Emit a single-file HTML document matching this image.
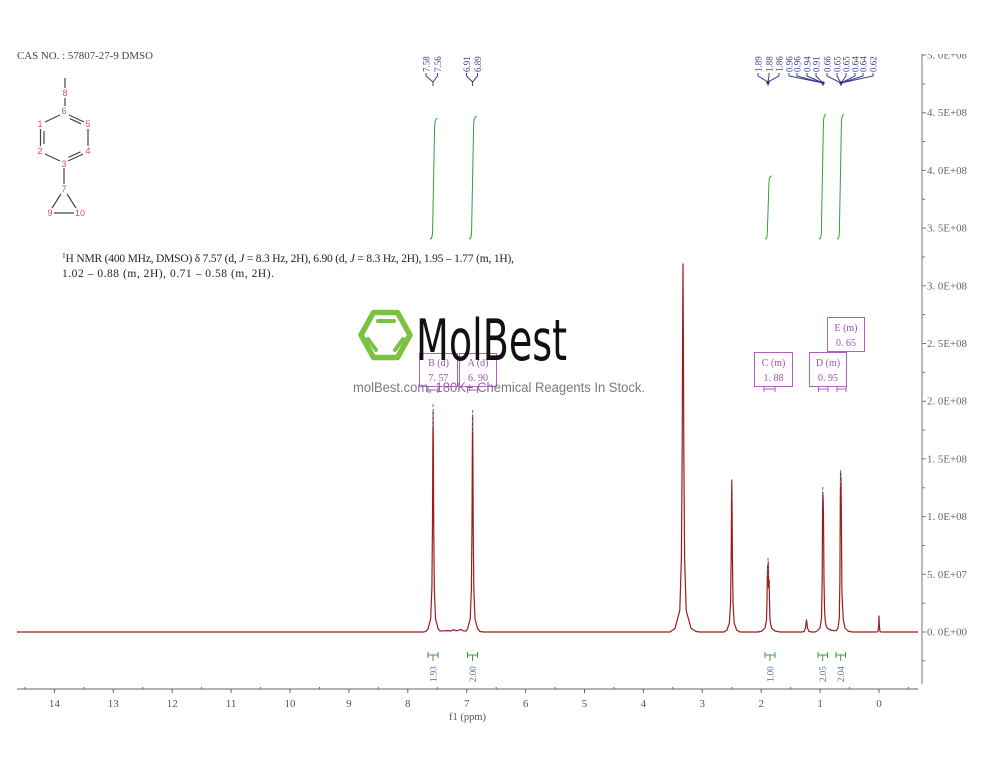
<!DOCTYPE html>
<html><head><meta charset="utf-8"><style>
html,body{margin:0;padding:0;background:#fff;}
svg{display:block;}
</style></head><body>
<svg width="1000" height="773" viewBox="0 0 1000 773" xmlns="http://www.w3.org/2000/svg">
<defs><clipPath id="topclip"><rect x="900" y="54" width="100" height="20"/></clipPath></defs>
<rect width="1000" height="773" fill="#fff"/>

<!-- CAS text -->
<text x="17" y="59" font-family="Liberation Serif, serif" font-size="10" fill="#444" textLength="136" lengthAdjust="spacingAndGlyphs">CAS NO. : 57807-27-9 DMSO</text>

<!-- Structure -->
<g stroke="#454545" stroke-width="1.2" fill="none">
<line x1="65" y1="78" x2="65" y2="88"/>
<line x1="65" y1="98" x2="65" y2="106"/>
<line x1="60" y1="115" x2="45" y2="122"/>
<line x1="69" y1="115" x2="84" y2="122"/>
<line x1="70" y1="118.7" x2="81" y2="123.8"/>
<line x1="40.5" y1="129" x2="40.5" y2="146"/>
<line x1="44" y1="131" x2="44" y2="144"/>
<line x1="88" y1="129" x2="88" y2="146"/>
<line x1="45" y1="154" x2="60" y2="161"/>
<line x1="68" y1="161" x2="83" y2="154"/>
<line x1="68.5" y1="157.3" x2="80.5" y2="151.8"/>
<line x1="64" y1="168" x2="64" y2="184"/>
<line x1="61" y1="194" x2="52" y2="208"/>
<line x1="67" y1="194" x2="76" y2="208"/>
<line x1="54" y1="213" x2="74" y2="213"/>
</g>
<g font-family="Liberation Sans, sans-serif" font-size="9" fill="#e0505a" text-anchor="middle">
<text x="65" y="96">8</text>
<text x="64" y="114">6</text>
<text x="40" y="127">1</text>
<text x="88" y="127">5</text>
<text x="40" y="154">2</text>
<text x="88" y="154">4</text>
<text x="64" y="167">3</text>
<text x="64" y="192">7</text>
<text x="50" y="216">9</text>
<text x="80" y="216">10</text>
</g>

<!-- NMR description -->
<g font-family="Liberation Serif, serif" font-size="11.5" fill="#222">
<text x="62" y="262" textLength="452" lengthAdjust="spacing"><tspan font-size="7.5" dy="-4">1</tspan><tspan dy="4">H NMR (400 MHz, DMSO) δ 7.57 (d, </tspan><tspan font-style="italic">J</tspan><tspan> = 8.3 Hz, 2H), 6.90 (d, </tspan><tspan font-style="italic">J</tspan><tspan> = 8.3 Hz, 2H), 1.95 – 1.77 (m, 1H),</tspan></text>
<text x="62" y="277" textLength="212" lengthAdjust="spacing">1.02 – 0.88 (m, 2H), 0.71 – 0.58 (m, 2H).</text>
</g>

<!-- Top peak labels -->
<g font-family="Liberation Serif, serif" font-size="9" fill="#3a3f8a">
<text transform="translate(429.5,72) rotate(-90)">7.58</text>
<text transform="translate(441,72) rotate(-90)">7.56</text>
<text transform="translate(470,72) rotate(-90)">6.91</text>
<text transform="translate(481,72) rotate(-90)">6.89</text>
<text transform="translate(761.5,72) rotate(-90)">1.89</text>
<text transform="translate(772.5,72) rotate(-90)">1.88</text>
<text transform="translate(782.5,72) rotate(-90)">1.86</text>
<text transform="translate(792.5,72) rotate(-90)">0.96</text>
<text transform="translate(800.5,72) rotate(-90)">0.96</text>
<text transform="translate(810.5,72) rotate(-90)">0.94</text>
<text transform="translate(819.5,72) rotate(-90)">0.91</text>
<text transform="translate(830.5,72) rotate(-90)">0.66</text>
<text transform="translate(840.5,72) rotate(-90)">0.65</text>
<text transform="translate(849.5,72) rotate(-90)">0.65</text>
<text transform="translate(858.5,72) rotate(-90)">0.64</text>
<text transform="translate(866.5,72) rotate(-90)">0.64</text>
<text transform="translate(876.5,72) rotate(-90)">0.62</text>
</g>
<g stroke="#3a3f8a" stroke-width="1" fill="none">
<path d="M426 73 V76 L433 82 M437.5 73 V76 L433 82 M433 82 V86"/>
<path d="M466.5 73 V76 L472.6 82 M477.5 73 V76 L472.6 82 M472.6 82 V86"/>
<path d="M758 73 V76 L768 82 M769 73 V76 L768 82 M779 73 V76 L768 82 M768 82 V86"/>
<path d="M789 73 V76 L823 83 M797 73 V76 L823 83 M807 73 V76 L823 83 M816 73 V76 L823 83 M823 83 V86"/>
<path d="M827 73 V76 L841 83 M837 73 V76 L841 83 M846 73 V76 L841 83 M855 73 V76 L841 83 M863 73 V76 L841 83 M873 73 V76 L841 83 M841 83 V86"/>
</g>
<g fill="#2a2f7a"><circle cx="768" cy="82.5" r="1.6"/><circle cx="823" cy="83" r="1.6"/><circle cx="841" cy="83" r="1.6"/></g>

<!-- Integral curves -->
<g stroke="#3c9a3c" stroke-width="1" fill="none">
<path d="M430 239 C432 239 432.5 236 432.6 230 L434.6 128 C434.8 121 435.5 119 437.5 118"/>
<path d="M469 239 C471 239 471.5 236 471.6 230 L473.6 126 C473.8 119 474.5 117 476.5 116"/>
<path d="M765 239 C767 239 767.3 236 767.4 230 L768.9 184 C769.1 178 769.8 176 771.5 176"/>
<path d="M819 239 C821 239 821.3 236 821.4 230 L823.4 124 C823.6 117 824.3 115 826 114"/>
<path d="M837 239 C839 239 839.3 236 839.4 230 L841.4 124 C841.6 117 842.3 115 844 114"/>
</g>

<!-- Multiplet boxes -->
<g stroke="#b060c0" stroke-width="1" fill="none">
<rect x="419.5" y="353.5" width="38" height="33"/>
<rect x="459.5" y="353.5" width="37" height="33"/>
<rect x="754.5" y="352.5" width="38" height="34"/>
<rect x="809.5" y="352.5" width="37" height="34"/>
<rect x="827.5" y="317.5" width="37" height="34"/>
<path d="M428 390 H438 M428 387 V393 M438 387 V393"/>
<path d="M467.5 390 H477.5 M467.5 387 V393 M477.5 387 V393"/>
<path d="M764 389 H775 M764 386 V392 M775 386 V392"/>
<path d="M818.5 389 H828 M818.5 386 V392 M828 386 V392"/>
<path d="M837 389 H846 M837 386 V392 M846 386 V392"/>
</g>
<g font-family="Liberation Serif, serif" font-size="10" fill="#a050b0" text-anchor="middle">
<text x="438.5" y="366">B (d)</text><text x="438.5" y="381">7. 57</text>
<text x="478" y="366">A (d)</text><text x="478" y="381">6. 90</text>
<text x="773.5" y="366">C (m)</text><text x="773.5" y="381">1. 88</text>
<text x="828" y="366">D (m)</text><text x="828" y="381">0. 95</text>
<text x="846" y="331">E (m)</text><text x="846" y="346">0. 65</text>
</g>

<!-- Right axis -->
<g stroke="#777" stroke-width="1" fill="none">
<line x1="922" y1="54" x2="922" y2="684"/>
<path d="M922 632 H926 M922 574.3 H926 M922 516.6 H926 M922 458.9 H926 M922 401.2 H926 M922 343.5 H926 M922 285.8 H926 M922 228.1 H926 M922 170.4 H926 M922 112.7 H926 M922 55 H926"/>
<path d="M922 660.85 H925 M922 603.15 H925 M922 545.45 H925 M922 487.75 H925 M922 430.05 H925 M922 372.35 H925 M922 314.65 H925 M922 256.95 H925 M922 199.25 H925 M922 141.55 H925 M922 83.85 H925"/>
</g>
<g font-family="Liberation Serif, serif" font-size="10" fill="#666">
<text x="927" y="635.5" textLength="40" lengthAdjust="spacingAndGlyphs">0. 0E+00</text>
<text x="927" y="577.8" textLength="40" lengthAdjust="spacingAndGlyphs">5. 0E+07</text>
<text x="927" y="520.1" textLength="40" lengthAdjust="spacingAndGlyphs">1. 0E+08</text>
<text x="927" y="462.4" textLength="40" lengthAdjust="spacingAndGlyphs">1. 5E+08</text>
<text x="927" y="404.7" textLength="40" lengthAdjust="spacingAndGlyphs">2. 0E+08</text>
<text x="927" y="347" textLength="40" lengthAdjust="spacingAndGlyphs">2. 5E+08</text>
<text x="927" y="289.3" textLength="40" lengthAdjust="spacingAndGlyphs">3. 0E+08</text>
<text x="927" y="231.6" textLength="40" lengthAdjust="spacingAndGlyphs">3. 5E+08</text>
<text x="927" y="173.9" textLength="40" lengthAdjust="spacingAndGlyphs">4. 0E+08</text>
<text x="927" y="116.2" textLength="40" lengthAdjust="spacingAndGlyphs">4. 5E+08</text>
<text x="927" y="58.5" textLength="40" lengthAdjust="spacingAndGlyphs" clip-path="url(#topclip)">5. 0E+08</text>
</g>

<!-- Bottom axis -->
<g stroke="#666" stroke-width="1" fill="none">
<line x1="17" y1="689" x2="918" y2="689"/>
<path d="M879 689 V693 M820.1 689 V693 M761.2 689 V693 M702.3 689 V693 M643.4 689 V693 M584.5 689 V693 M525.6 689 V693 M466.7 689 V693 M407.8 689 V693 M348.9 689 V693 M290 689 V693 M231.1 689 V693 M172.2 689 V693 M113.3 689 V693 M54.4 689 V693"/>
<path d="M908.45 687 V689 M849.55 687 V689 M790.65 687 V689 M731.75 687 V689 M672.85 687 V689 M613.95 687 V689 M555.05 687 V689 M496.15 687 V689 M437.25 687 V689 M378.35 687 V689 M319.45 687 V689 M260.55 687 V689 M201.65 687 V689 M142.75 687 V689 M83.85 687 V689 M24.95 687 V689"/>
</g>
<g font-family="Liberation Serif, serif" font-size="11" fill="#555" text-anchor="middle">
<text x="879" y="707">0</text><text x="820.1" y="707">1</text><text x="761.2" y="707">2</text>
<text x="702.3" y="707">3</text><text x="643.4" y="707">4</text><text x="584.5" y="707">5</text>
<text x="525.6" y="707">6</text><text x="466.7" y="707">7</text><text x="407.8" y="707">8</text>
<text x="348.9" y="707">9</text><text x="290" y="707">10</text><text x="231.1" y="707">11</text>
<text x="172.2" y="707">12</text><text x="113.3" y="707">13</text><text x="54.4" y="707">14</text>
<text x="467.5" y="720" font-size="10.5">f1 (ppm)</text>
</g>

<!-- Integral labels bottom -->
<g stroke="#3c9a3c" stroke-width="1" fill="none">
<path d="M428 655 H438 M428 652 V658 M438 652 V658 M433 655 V661"/>
<path d="M467.5 655 H477.5 M467.5 652 V658 M477.5 652 V658 M472.5 655 V661"/>
<path d="M765 655 H775 M765 652 V658 M775 652 V658 M770 655 V661"/>
<path d="M818 655 H827.5 M818 652 V658 M827.5 652 V658 M822.7 655 V661"/>
<path d="M836 655 H845.5 M836 652 V658 M845.5 652 V658 M840.7 655 V661"/>
</g>
<g font-family="Liberation Serif, serif" font-size="9" fill="#5a6aa0">
<text transform="translate(436.5,682) rotate(-90)">1.93</text>
<text transform="translate(476,682) rotate(-90)">2.00</text>
<text transform="translate(773.5,682) rotate(-90)">1.00</text>
<text transform="translate(826.2,682) rotate(-90)">2.05</text>
<text transform="translate(844.2,682) rotate(-90)">2.04</text>
</g>

<!-- Spectrum -->
<polyline fill="none" stroke="#9c1c1c" stroke-width="1.2" stroke-linejoin="round" points="
17,632 424,632 426,631.2 428.1,628.7 430.7,618.7 431.9,587.6 432.5,521 432.8,454.4 433.1,410 433.4,454.4 433.7,521 434.3,587.6 435.5,618.7 438.1,628.7
440,631 443,630.8 448,630.6 451,631 453.5,629.6 456,630.8 459,630.2 461,629.4 463,630.8 466,631
467.6,628.7 470.2,619 471.4,588.6 472,523.5 472.3,458.4 472.6,415 472.9,458.4 473.2,523.5 473.8,588.6 475,619 477.6,628.7 480,631.5 484,632
670,632 675,628.4 679.8,610.4 681.4,558.4 682.2,448 682.6,338 683,264 683.4,338 683.8,448 684.6,558.4 686.2,610.4 691,628.4 696,631.5 700,632
724,632 727,630 729.4,623.1 730.6,601.6 731.2,556 731.5,510.4 731.8,480 732.1,510.4 732.4,556 733,601.6 734.2,623.1 736.6,630 740,632
758,632 762,631 765,628 766.5,620 767,600 767.4,575 767.7,565 768,585 768.3,562 768.7,588 769.1,580 769.5,600 770,620 771.5,628 775,631 780,632
802,632 804,631.5 805.5,628 806.2,622 806.5,620 806.8,622 807.5,628 809,631.5 812,632
815,632 817,631 820,628 821.5,618 822.2,580 822.5,520 822.8,492 823.2,498 823.6,530 824,580 824.6,612 825.4,622 826.5,627 829,629.5 833,630.5 836,630.8
838,628 839.3,618 839.9,580 840.3,500 840.6,473 841,480 841.4,520 841.9,590 842.5,605 843.3,620 845,628 848,631 852,632
877,632 878,631.5 878.7,625 879,616 879.3,625 880,631.5 881,632 918,632"/>
<!-- Peak pick markers -->
<g stroke="#6070b0" stroke-width="1" stroke-dasharray="3,2" fill="none">
<line x1="433" y1="404" x2="433" y2="428"/>
<line x1="472.6" y1="410" x2="472.6" y2="432"/>
<line x1="768" y1="558" x2="768" y2="578"/>
<line x1="822.8" y1="487" x2="822.8" y2="502"/>
<line x1="840.6" y1="470" x2="840.6" y2="486"/>
</g>

<!-- Watermark -->
<g fill="none" stroke="#7cc242" stroke-linejoin="round" stroke-linecap="round">
<path d="M361 335 L373.5 312.5 L397.5 312.5 L410 335 L397.5 357.5 L373.5 357.5 Z" stroke-width="5.5"/>
<path d="M378 321 H394" stroke-width="4"/>
<path d="M368 339 L376 350" stroke-width="4"/>
<path d="M403 339 L395 350" stroke-width="4"/>
</g>
<text x="416" y="360" font-family="DejaVu Sans, Liberation Sans, sans-serif" font-size="57" fill="#111" textLength="151" lengthAdjust="spacingAndGlyphs">MolBest</text>
<text x="353" y="392" font-family="Liberation Sans, sans-serif" font-size="13.5" fill="#7a7a7a" textLength="292" lengthAdjust="spacingAndGlyphs">molBest.com, 180K+ Chemical Reagents In Stock.</text>
</svg>
</body></html>
